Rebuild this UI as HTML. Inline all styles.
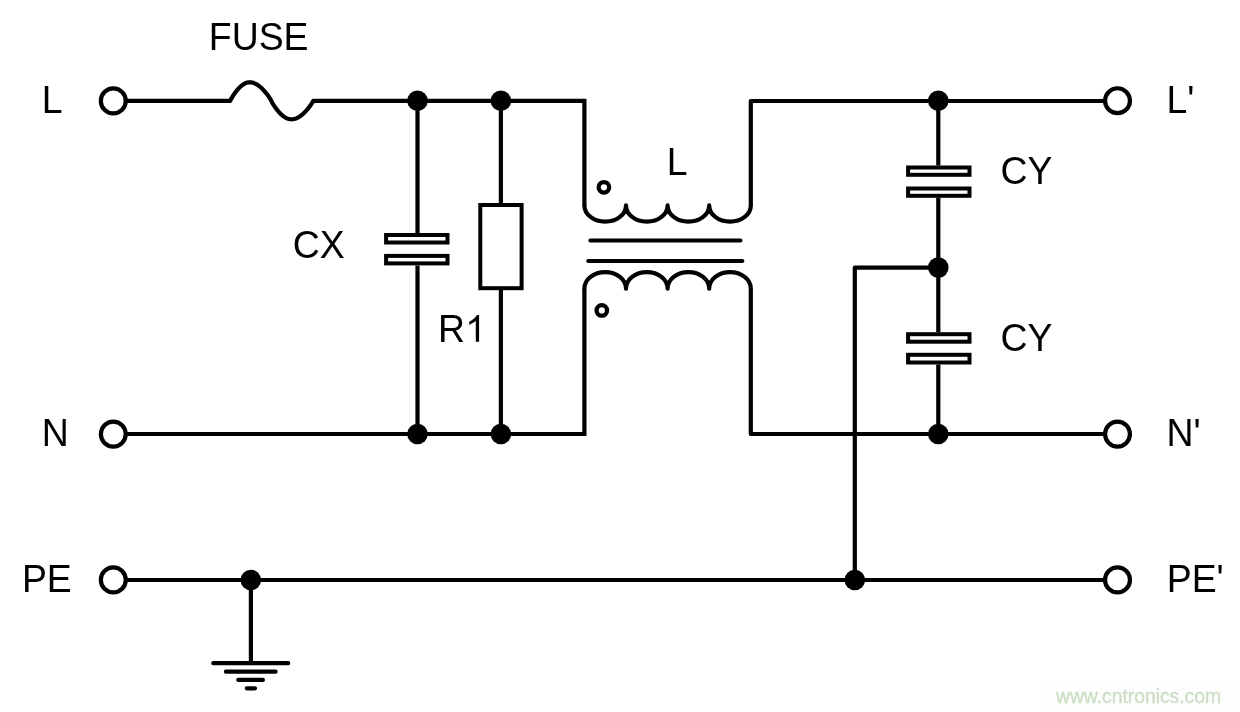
<!DOCTYPE html>
<html><head><meta charset="utf-8"><title>EMI filter</title>
<style>
html,body{margin:0;padding:0;background:#fff;}
body{width:1240px;height:712px;overflow:hidden;position:relative;font-family:"Liberation Sans",sans-serif;}
svg{position:absolute;left:0;top:0;display:block;will-change:transform;opacity:0.9999;}
text{font-family:"Liberation Sans",sans-serif;fill:#000;}
.w{fill:none;stroke:#000;stroke-width:4.2;stroke-linecap:butt;stroke-linejoin:round;}
.r{fill:none;stroke:#000;stroke-width:4.2;stroke-linecap:round;stroke-linejoin:round;}
.p{fill:#fff;stroke:#000;stroke-width:4;}
.t{fill:#fff;stroke:#000;stroke-width:4.2;}
.d{fill:#000;}
.lb{font-size:37.4px;}
</style></head><body>
<svg width="1240" height="712" viewBox="0 0 1240 712">
<rect x="0" y="0" width="1240" height="712" fill="#ffffff"/>
<rect x="1040" y="680" width="200" height="32" fill="#fdfdfd"/>
<!-- wires -->
<path class="w" d="M126,100.9 L230.20,100.90 L230.98,99.23 L231.76,97.85 L232.54,96.57 L233.32,95.36 L234.10,94.20 L234.88,93.10 L235.66,92.05 L236.44,91.05 L237.22,90.09 L238.00,89.19 L238.78,88.33 L239.56,87.52 L240.34,86.77 L241.12,86.07 L241.90,85.43 L242.68,84.85 L243.46,84.32 L244.24,83.85 L245.02,83.44 L245.80,83.09 L246.58,82.81 L247.36,82.59 L248.14,82.43 L248.92,82.33 L249.70,82.30 L250.56,82.33 L251.43,82.43 L252.29,82.59 L253.16,82.81 L254.02,83.09 L254.88,83.44 L255.75,83.85 L256.61,84.32 L257.48,84.85 L258.34,85.43 L259.20,86.07 L260.07,86.77 L260.93,87.52 L261.80,88.33 L262.66,89.19 L263.52,90.09 L264.39,91.05 L265.25,92.05 L266.12,93.10 L266.98,94.20 L267.84,95.36 L268.71,96.57 L269.57,97.85 L270.44,99.23 L271.30,100.90 L272.10,102.56 L272.91,103.92 L273.71,105.19 L274.52,106.38 L275.32,107.52 L276.12,108.61 L276.93,109.65 L277.73,110.65 L278.54,111.59 L279.34,112.49 L280.14,113.34 L280.95,114.13 L281.75,114.88 L282.56,115.57 L283.36,116.20 L284.16,116.78 L284.97,117.30 L285.77,117.77 L286.58,118.17 L287.38,118.51 L288.18,118.80 L288.99,119.02 L289.79,119.17 L290.60,119.27 L291.40,119.30 L292.27,119.27 L293.14,119.17 L294.02,119.02 L294.89,118.80 L295.76,118.51 L296.63,118.17 L297.50,117.77 L298.38,117.30 L299.25,116.78 L300.12,116.20 L300.99,115.57 L301.86,114.88 L302.74,114.13 L303.61,113.34 L304.48,112.49 L305.35,111.59 L306.22,110.65 L307.10,109.65 L307.97,108.61 L308.84,107.52 L309.71,106.38 L310.58,105.19 L311.46,103.92 L312.33,102.56 L313.20,100.90 L584.4,100.9"/>
<path class="w" d="M584.4,98.9 V205.4"/>
<path class="w" d="M126,434 H584.4"/>
<path class="w" d="M584.4,436.1 V288.7"/>
<path class="w" d="M750.8,205.4 V101 H1105"/>
<path class="w" d="M750.8,288.7 V434 H1105"/>
<path class="w" d="M126,580 H1105"/>
<path class="w" d="M854.8,582.1 V267.6 H938.3"/>
<path class="w" d="M417.5,101 V233 M417.5,265.5 V434"/>
<path class="w" d="M500.9,101 V203 M500.9,290 V434"/>
<path class="w" d="M938.3,101 V165.5 M938.3,197.8 V332.2 M938.3,364.5 V434"/>
<path class="w" d="M250.9,580 V663.2"/>
<!-- ground -->
<path class="r" d="M213.3,663.2 H288.2 M225.9,671.7 H275.6 M238.3,679.9 H262.9 M246.8,688.3 H255"/>
<!-- coils -->
<path class="r" d="M584.4,205.4 A20.8,16.2 0 0 0 626,205.4 A20.8,16.2 0 0 0 667.6,205.4 A20.8,16.2 0 0 0 709.2,205.4 A20.8,16.2 0 0 0 750.8,205.4"/>
<path class="r" d="M584.4,288.7 A20.8,16.6 0 0 1 626,288.7 A20.8,16.6 0 0 1 667.6,288.7 A20.8,16.6 0 0 1 709.2,288.7 A20.8,16.6 0 0 1 750.8,288.7"/>
<path class="r" d="M590.4,240.5 H740.4 M588.3,261 H742.3"/>
<circle cx="603.9" cy="187.3" r="5.25" fill="none" stroke="#000" stroke-width="4.3"/>
<circle cx="601.8" cy="310.4" r="5.25" fill="none" stroke="#000" stroke-width="4.3"/>
<!-- caps -->
<rect class="p" x="386.1" y="235" width="61.4" height="7.5"/>
<rect class="p" x="386.1" y="255.9" width="61.4" height="7.5"/>
<rect class="p" x="908.1" y="167.5" width="61.4" height="7.3"/>
<rect class="p" x="908.1" y="188.5" width="61.4" height="7.3"/>
<rect class="p" x="908.1" y="334.2" width="61.4" height="7.5"/>
<rect class="p" x="908.1" y="354.8" width="61.4" height="7.7"/>
<!-- resistor -->
<rect class="p" x="480.3" y="205" width="41.3" height="83.2"/>
<!-- junctions -->
<circle class="d" cx="417.5" cy="100.8" r="10.3"/>
<circle class="d" cx="500.9" cy="100.8" r="10.3"/>
<circle class="d" cx="417.5" cy="434" r="10.3"/>
<circle class="d" cx="500.9" cy="434" r="10.3"/>
<circle class="d" cx="938.3" cy="100.7" r="10.3"/>
<circle class="d" cx="938.3" cy="267.6" r="10.3"/>
<circle class="d" cx="938.3" cy="434" r="10.3"/>
<circle class="d" cx="250.8" cy="580" r="10.3"/>
<circle class="d" cx="854.8" cy="580" r="10.3"/>
<!-- terminals -->
<circle class="t" cx="113.3" cy="100.9" r="12.45"/>
<circle class="t" cx="113.3" cy="434.1" r="12.45"/>
<circle class="t" cx="113.3" cy="579.9" r="12.45"/>
<circle class="t" cx="1117.5" cy="100.7" r="12.45"/>
<circle class="t" cx="1117.5" cy="434.1" r="12.45"/>
<circle class="t" cx="1117.5" cy="579.9" r="12.45"/>
<!-- labels -->
<text class="lb" transform="translate(208.8,49.8) scale(1,1.04)" >FUSE</text>
<text class="lb" transform="translate(41.7,112.85) scale(1,1.04)" >L</text>
<text class="lb" transform="translate(41.7,445.8) scale(1,1.04)" >N</text>
<text class="lb" transform="translate(21.9,591.8) scale(1,1.04)" >PE</text>
<text class="lb" transform="translate(292.7,258.1) scale(1,1.04)" >CX</text>
<text class="lb" transform="translate(438.0,341.8) scale(1,1.04)" >R</text>
<path transform="translate(465.15,341.8) scale(0.018262,-0.018262)" d="M763 0H583V1147Q518 1085 412.5 1023T223 930V1104Q373 1174.5 485 1275T644 1470H763Z" fill="#000"/>
<text class="lb" transform="translate(666.7,174.8) scale(1,1.04)" >L</text>
<text class="lb" transform="translate(1000.6,184.0) scale(1,1.04)" >CY</text>
<text class="lb" transform="translate(1000.6,350.7) scale(1,1.04)" >CY</text>
<text class="lb" transform="translate(1166.5,112.85) scale(1,1.04)" >L'</text>
<text class="lb" transform="translate(1166.6,445.8) scale(1,1.04)" >N'</text>
<text class="lb" transform="translate(1166.7,591.9) scale(1,1.04)" >PE'</text>
<text transform="translate(1056,703) scale(1,1.01)" style="font-size:19.3px;fill:#cbdec4;stroke:#cbdec4;stroke-width:0.35px;">www.cntronics.com</text>
</svg>
</body></html>
